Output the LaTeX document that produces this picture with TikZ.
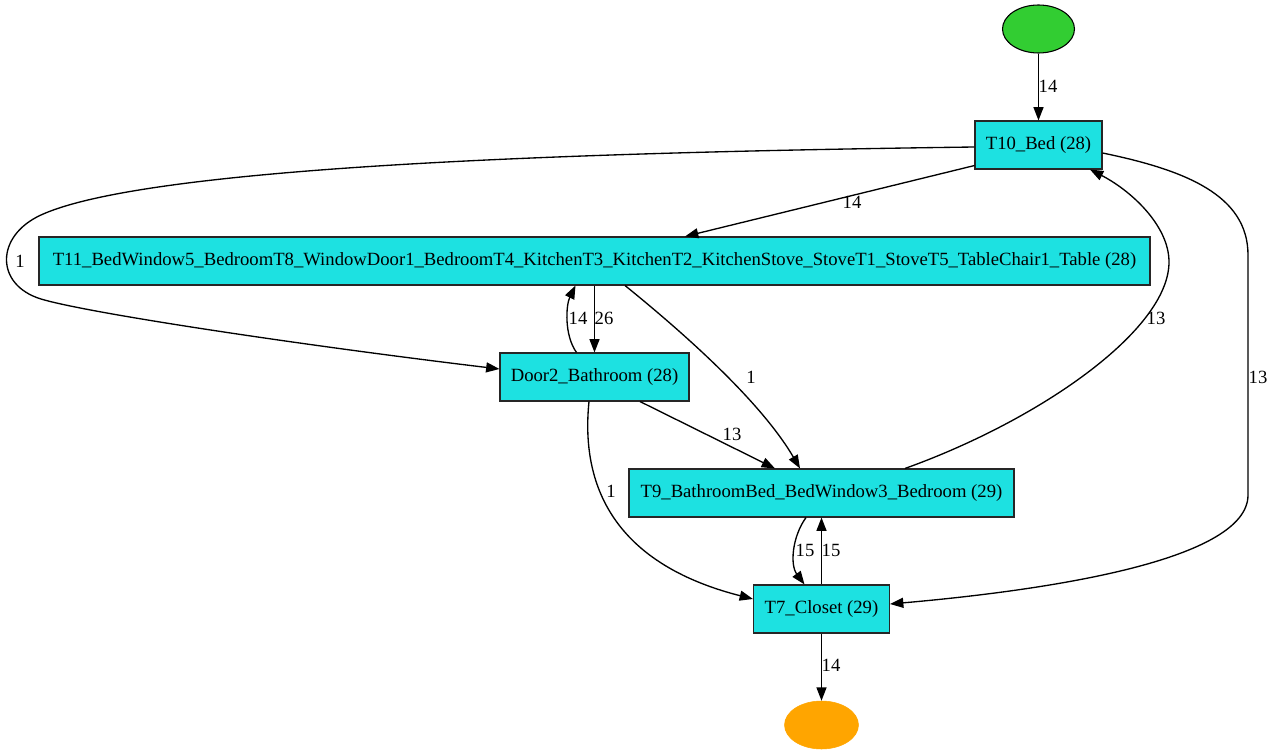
\documentclass[tikz,border=0pt]{standalone}
\usepackage{fontspec}
\setmainfont{Liberation Serif}
\usetikzlibrary{shapes.geometric,arrows.meta}
\definecolor{boxfill}{RGB}{29,225,225}
\definecolor{startfill}{RGB}{50,205,50}
\definecolor{endfill}{RGB}{255,165,0}
\begin{document}
\begin{tikzpicture}[x=0.75pt,y=-0.75pt,
  every node/.style={font=\fontsize{14}{16}\selectfont},
  task/.style={draw=black!85,line width=0.8pt,fill=boxfill,rectangle,inner sep=0pt,minimum height=36pt},
  startev/.style={ellipse,draw=black,line width=0.8pt,fill=startfill,inner sep=0pt,minimum width=54pt,minimum height=36pt},
  endev/.style={ellipse,draw=endfill,fill=endfill,inner sep=0pt,minimum width=55.5pt,minimum height=36pt},
  flow/.style={line width=1pt,-{Triangle[length=10pt,width=7.5pt]}},
  lbl/.style={inner sep=0pt}]
\useasboundingbox (0,0) rectangle (1275,755);

% events and tasks
\node[startev] (start) at (1038.5,29) {};
\node[task,minimum width=95.25pt] (T10) at (1038.5,145) {T10\_Bed (28)};
\node[task,minimum width=833.25pt] (T11) at (594.5,261) {T11\_BedWindow5\_BedroomT8\_WindowDoor1\_BedroomT4\_KitchenT3\_KitchenT2\_KitchenStove\_StoveT1\_StoveT5\_TableChair1\_Table (28)};
\node[task,minimum width=141.75pt] (D2) at (594.5,377) {Door2\_Bathroom (28)};
\node[task,minimum width=288.75pt] (T9) at (821.5,493) {T9\_BathroomBed\_BedWindow3\_Bedroom (29)};
\node[task,minimum width=102pt] (T7) at (821.5,609) {T7\_Closet (29)};
\node[endev] (end) at (821.5,725) {};

% transitions
\draw[flow] (start) -- (T10);
\draw[flow] ([shift={(0,-4)}]T10.south west) -- ([shift={(90.5,0)}]T11.north);
\draw[flow] ([shift={(0,2)}]T10.west)
  .. controls (600,152) and (150,165) .. (41,215)
  .. controls (-5,236) and (-5,285) .. (41,299)
  .. controls (87,313) and (300,345) .. ([shift={(0,-8)}]D2.west);
\draw[flow] (T11.south) -- (D2.north);
\draw[flow] ([shift={(-18,0)}]D2.north) .. controls (564,335) and (566,305) .. ([shift={(-19,0)}]T11.south);
\draw[flow] ([shift={(30.5,0)}]T11.south) .. controls (680,330) and (760,400) .. ([shift={(-21.5,0)}]T9.north);
\draw[flow] ([shift={(45.5,0)}]D2.south) -- ([shift={(-46.5,0)}]T9.north);
\draw[flow] ([shift={(-5.5,0)}]D2.south) .. controls (582,470) and (600,560) .. ([shift={(0,-10)}]T7.west);
\draw[flow] ([shift={(83.5,0)}]T9.north)
  .. controls (1040,420) and (1169,330) .. (1169,262)
  .. controls (1169,225) and (1130,190) .. ([shift={(51.5,0)}]T10.south);
\draw[flow] ([shift={(0,8)}]T10.east)
  .. controls (1185,170) and (1248,195) .. (1248,255)
  -- (1248,495)
  .. controls (1248,560) and (1050,590) .. ([shift={(0,-5)}]T7.east);
\draw[flow] ([shift={(-15.5,0)}]T9.south) .. controls (792,537) and (790,565) .. ([shift={(-17,0)}]T7.north);
\draw[flow] (T7.north) -- (T9.south);
\draw[flow] (T7) -- (end);

% transition counts
\node[lbl] (c1) at (1048,86) {14};
\node[lbl] (c2) at (852,202) {14};
\node[lbl] (c3) at (20,261) {1};
\node[lbl] (c4) at (604,318) {26};
\node[lbl] (c5) at (578,318) {14};
\node[lbl] (c6) at (751,377) {1};
\node[lbl] (c7) at (732,434) {13};
\node[lbl] (c8) at (1156,318) {13};
\node[lbl] (c9) at (1258,377) {13};
\node[lbl] (c10) at (611,491) {1};
\node[lbl] (c11) at (805,550) {15};
\node[lbl] (c12) at (831,550) {15};
\node[lbl] (c13) at (831,665) {14};
\end{tikzpicture}
\end{document}
